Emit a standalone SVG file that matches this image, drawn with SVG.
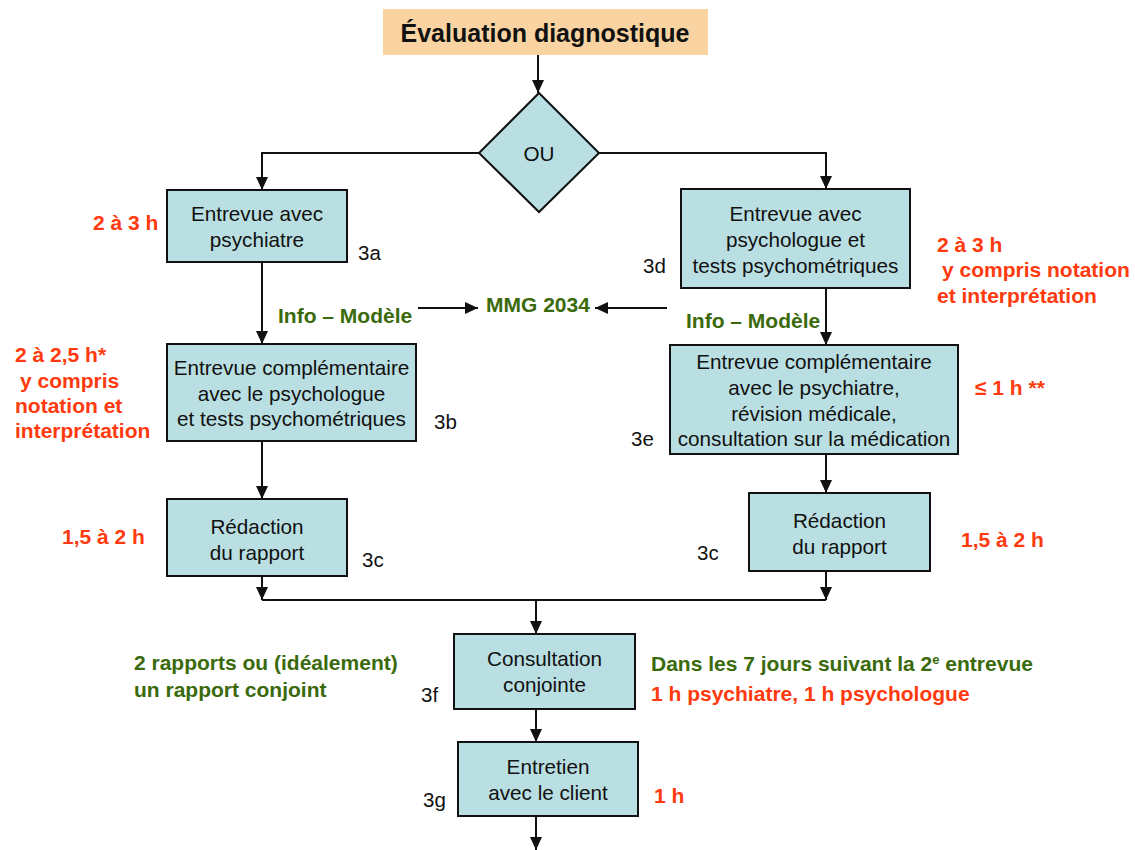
<svg xmlns="http://www.w3.org/2000/svg" width="1135" height="850" viewBox="0 0 1135 850">
  <style>
    .box { fill: #B9DFE2; stroke: #111; stroke-width: 2; }
    .bt { font-family: "Liberation Sans", Arial, sans-serif; font-size: 20.7px; fill: #111; text-anchor: middle; }
    .num { font-family: "Liberation Sans", Arial, sans-serif; font-size: 20.5px; fill: #111; }
    .red { font-family: "Liberation Sans", Arial, sans-serif; font-size: 21px; font-weight: bold; fill: #FF3A0E; }
    .grn { font-family: "Liberation Sans", Arial, sans-serif; font-size: 21px; font-weight: bold; fill: #3A6A0C; }
    .ln { fill: none; stroke: #111; stroke-width: 2; }
  </style>
  <defs>
    <marker id="ah" viewBox="0 0 13 12" refX="13" refY="6" markerWidth="13" markerHeight="12" markerUnits="userSpaceOnUse" orient="auto">
      <path d="M0,0 L13,6 L0,12 Z" fill="#111"/>
    </marker>
  </defs>

  <rect width="1135" height="850" fill="#fff"/>

  <!-- connectors -->
  <g id="connectors">
    <path class="ln" d="M538,55 V93" marker-end="url(#ah)"/>
    <path class="ln" d="M479,153 H262 V190" marker-end="url(#ah)"/>
    <path class="ln" d="M599,153 H826 V189" marker-end="url(#ah)"/>
    <path class="ln" d="M262,262 V344" marker-end="url(#ah)"/>
    <path class="ln" d="M262,441 V499" marker-end="url(#ah)"/>
    <path class="ln" d="M826,288 V345" marker-end="url(#ah)"/>
    <path class="ln" d="M826,454 V493" marker-end="url(#ah)"/>
    <path class="ln" d="M262,576 V600" marker-end="url(#ah)"/>
    <path class="ln" d="M826,571 V600" marker-end="url(#ah)"/>
    <path class="ln" d="M262,600 H826"/>
    <path class="ln" d="M536,600 V634" marker-end="url(#ah)"/>
    <path class="ln" d="M536,709 V742" marker-end="url(#ah)"/>
    <path class="ln" d="M536,816 V850" marker-end="url(#ah)"/>
    <path class="ln" d="M418,308 H478" marker-end="url(#ah)"/>
    <path class="ln" d="M667,308 H595" marker-end="url(#ah)"/>
  </g>

  <!-- title -->
  <g id="title">
    <rect x="383" y="9" width="325" height="46" fill="#F9D4A2"/>
    <text x="545" y="42" text-anchor="middle" font-family="Liberation Sans, Arial, sans-serif" font-size="25px" font-weight="bold" fill="#111">Évaluation diagnostique</text>
  </g>

  <!-- decision -->
  <g id="ou">
    <path d="M539,93 L599,153 L539,212 L479,153 Z" class="box"/>
    <text class="bt" x="539" y="161">OU</text>
  </g>

  <!-- left branch -->
  <g id="n3a">
    <rect class="box" x="167" y="190" width="180" height="72"/>
    <text class="bt" x="257" y="221">Entrevue avec</text>
    <text class="bt" x="257" y="247">psychiatre</text>
    <text class="num" x="358" y="260">3a</text>
    <text class="red" x="93" y="230">2 à 3 h</text>
  </g>

  <g id="n3b">
    <rect class="box" x="167" y="344" width="249" height="97"/>
    <text class="bt" x="291.5" y="375">Entrevue complémentaire</text>
    <text class="bt" x="291.5" y="401">avec le psychologue</text>
    <text class="bt" x="291.5" y="426">et tests psychométriques</text>
    <text class="num" x="434" y="429">3b</text>
    <text class="red" x="15" y="362">2 à 2,5 h*</text>
    <text class="red" x="20" y="388">y compris</text>
    <text class="red" x="15" y="413">notation et</text>
    <text class="red" x="15" y="438">interprétation</text>
  </g>

  <g id="n3c-left">
    <rect class="box" x="167" y="499" width="180" height="77"/>
    <text class="bt" x="257" y="534">Rédaction</text>
    <text class="bt" x="257" y="560">du rapport</text>
    <text class="num" x="362" y="567">3c</text>
    <text class="red" x="62" y="544">1,5 à 2 h</text>
  </g>

  <!-- model link -->
  <g id="mmg">
    <text class="grn" x="278" y="323">Info – Modèle</text>
    <text class="grn" x="486" y="312">MMG 2034</text>
    <text class="grn" x="686" y="328">Info – Modèle</text>
  </g>

  <!-- right branch -->
  <g id="n3d">
    <rect class="box" x="681" y="189" width="229" height="99"/>
    <text class="bt" x="795.5" y="221">Entrevue avec</text>
    <text class="bt" x="795.5" y="247">psychologue et</text>
    <text class="bt" x="795.5" y="273">tests psychométriques</text>
    <text class="num" x="643" y="273">3d</text>
    <text class="red" x="937" y="252">2 à 3 h</text>
    <text class="red" x="942" y="277">y compris notation</text>
    <text class="red" x="937" y="303">et interprétation</text>
  </g>

  <g id="n3e">
    <rect class="box" x="670" y="345" width="288" height="109"/>
    <text class="bt" x="814" y="369">Entrevue complémentaire</text>
    <text class="bt" x="814" y="395">avec le psychiatre,</text>
    <text class="bt" x="814" y="421">révision médicale,</text>
    <text class="bt" x="814" y="446">consultation sur la médication</text>
    <text class="num" x="631" y="446">3e</text>
    <text class="red" x="975" y="395">≤ 1 h **</text>
  </g>

  <g id="n3c-right">
    <rect class="box" x="749" y="493" width="181" height="78"/>
    <text class="bt" x="839.5" y="528">Rédaction</text>
    <text class="bt" x="839.5" y="554">du rapport</text>
    <text class="num" x="697" y="560">3c</text>
    <text class="red" x="961" y="547">1,5 à 2 h</text>
  </g>

  <!-- joint steps -->
  <g id="n3f">
    <rect class="box" x="454" y="634" width="181" height="75"/>
    <text class="bt" x="544.5" y="666">Consultation</text>
    <text class="bt" x="544.5" y="692">conjointe</text>
    <text class="num" x="421" y="702">3f</text>
    <text class="grn" x="134" y="670">2 rapports ou (idéalement)</text>
    <text class="grn" x="134" y="697">un rapport conjoint</text>
    <text class="grn" x="651" y="671">Dans les 7 jours suivant la 2<tspan dy="-7" font-size="13px">e</tspan><tspan dy="7"> entrevue</tspan></text>
    <text class="red" x="651" y="701">1 h psychiatre, 1 h psychologue</text>
  </g>

  <g id="n3g">
    <rect class="box" x="458" y="742" width="180" height="74"/>
    <text class="bt" x="548" y="774">Entretien</text>
    <text class="bt" x="548" y="800">avec le client</text>
    <text class="num" x="423" y="807">3g</text>
    <text class="red" x="654" y="803">1 h</text>
  </g>
</svg>
